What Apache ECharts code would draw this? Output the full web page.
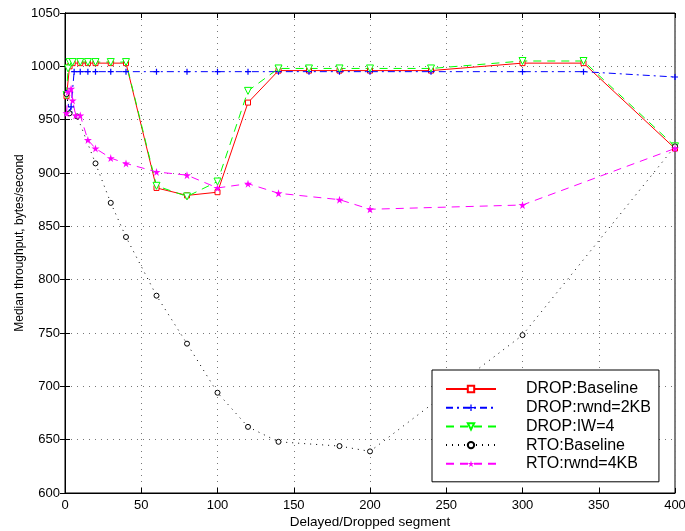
<!DOCTYPE html>
<html>
<head>
<meta charset="utf-8">
<script src="https://cdn.jsdelivr.net/npm/echarts@6/dist/echarts.min.js"></script>
<style>
  html, body { margin: 0; padding: 0; background: #fff; }
  #container { width: 685px; height: 531px; }
</style>
</head>
<body>
<div id="container"></div>
<script>
// values
var dropBaseX = [1, 3, 5, 10, 15, 20, 30, 40, 60, 80, 100, 120, 140, 160, 180, 200, 240, 300, 340, 400];
var dropBaseY = [972, 1000, 1003, 1003, 1003, 1003, 1003, 1003, 886, 879, 882, 966, 996, 996, 996, 996, 996, 1003, 1003, 923];

var dropRwndX = [1, 3, 4, 6, 10, 15, 20, 30, 40, 60, 80, 100, 120, 140, 160, 180, 200, 240, 300, 340, 400];
var dropRwndY = [975, 957, 962, 995, 995, 995, 995, 995, 995, 995, 995, 995, 995, 995, 995, 995, 995, 995, 995, 995, 990];

var dropIwX = [1, 2, 3, 5, 10, 15, 20, 30, 40, 60, 80, 100, 120, 140, 160, 180, 200, 240, 300, 340, 400];
var dropIwY = [973, 998, 1004, 1004, 1004, 1004, 1004, 1004, 1004, 888, 878, 892, 977, 998, 998, 998, 998, 998, 1005, 1005, 925];

var rtoBaseX = [1, 3, 8, 20, 30, 40, 60, 80, 100, 120, 140, 180, 200, 300, 400];
var rtoBaseY = [974, 956, 953, 909, 872, 840, 785, 740, 694, 662, 648, 644, 639, 748, 925];

var rtoRwndX = [1, 2, 4, 5, 7, 10, 15, 20, 30, 40, 60, 80, 100, 120, 140, 180, 200, 300, 400];
var rtoRwndY = [956, 976, 979, 968, 954, 954, 931, 923, 914, 909, 901, 898, 886, 890, 881, 875, 866, 870, 923];

var xTicks = { min: 0, max: 400, interval: 50 };
var yTicks = { min: 600, max: 1050, interval: 50 };

function zip(xs, ys) {
    return xs.map(function (x, i) { return [x, ys[i]]; });
}

var font = 'Liberation Sans, Arial, Helvetica, sans-serif';
var starPath = 'path://M50,0 L61,35 L98,35 L68,57 L79,91 L50,70 L21,91 L32,57 L2,35 L39,35 Z';
var plusPath = 'path://M4,0H6V10H4ZM0,4H10V6H0Z';
var triDownPath = 'path://M0,0L10,0L5,9Z';

var chart = echarts.init(document.getElementById('container'));

var option = {
    animation: false,
    backgroundColor: '#fff',
    textStyle: { fontFamily: font },
    grid: {
        left: 65, right: 10, top: 13, bottom: 38,
        outerBoundsMode: 'none',
        containLabel: false,
        show: true, borderColor: '#000', borderWidth: 1, backgroundColor: 'transparent'
    },
    legend: {
        orient: 'vertical',
        left: 432, top: 370,
        backgroundColor: '#fff',
        borderColor: '#000',
        borderWidth: 1,
        padding: [11, 8, 10, 13],
        itemWidth: 50,
        itemHeight: 8,
        itemGap: 2.7,
        textStyle: { fontSize: 16, color: '#000', fontFamily: font, padding: [0, 0, 0, 25] },
        data: ['DROP:Baseline', 'DROP:rwnd=2KB', 'DROP:IW=4', 'RTO:Baseline', 'RTO:rwnd=4KB']
    },
    xAxis: [{
        type: 'value',
        min: xTicks.min, max: xTicks.max, interval: xTicks.interval,
        name: 'Delayed/Dropped segment',
        nameLocation: 'middle',
        nameGap: 22,
        nameMoveOverlap: false,
        nameTextStyle: { fontSize: 13.5, color: '#000', fontFamily: font },
        axisLine: { lineStyle: { color: '#000' } },
        axisTick: { inside: true, length: 5, lineStyle: { color: '#000' } },
        axisLabel: { fontSize: 13, color: '#000', margin: 6, fontFamily: font },
        splitLine: { show: true, lineStyle: { color: '#777', type: [1, 5] } }
    }, {
        type: 'value', position: 'top',
        min: xTicks.min, max: xTicks.max, interval: xTicks.interval,
        axisLine: { lineStyle: { color: '#000' } },
        axisTick: { inside: true, length: 5, lineStyle: { color: '#000' } },
        axisLabel: { show: false },
        splitLine: { show: false }
    }],
    yAxis: [{
        type: 'value',
        min: yTicks.min, max: yTicks.max, interval: yTicks.interval,
        name: 'Median throughput, bytes/second',
        nameLocation: 'middle',
        nameGap: 39,
        nameMoveOverlap: false,
        nameTextStyle: { fontSize: 12, color: '#000', fontFamily: font, padding: [0, 0, 0, 20] },
        axisLine: { show: true, lineStyle: { color: '#000' } },
        axisTick: { show: true, inside: true, length: 5, lineStyle: { color: '#000' } },
        axisLabel: {
            fontSize: 13, color: '#000', margin: 5, fontFamily: font,
            formatter: function (v) { return String(v); }
        },
        splitLine: { show: true, lineStyle: { color: '#777', type: [1, 5] } }
    }, {
        type: 'value', position: 'right',
        min: yTicks.min, max: yTicks.max, interval: yTicks.interval,
        axisLine: { show: true, lineStyle: { color: '#000' } },
        axisTick: { show: true, inside: true, length: 5, lineStyle: { color: '#000' } },
        axisLabel: { show: false },
        splitLine: { show: false }
    }],
    series: [{
        name: 'DROP:Baseline',
        type: 'line',
        data: zip(dropBaseX, dropBaseY),
        symbol: 'rect', symbolSize: 5,
        itemStyle: { color: '#fff', borderColor: '#ff0000', borderWidth: 1 },
        lineStyle: { color: '#ff0000', width: 1 }
    }, {
        name: 'DROP:rwnd=2KB',
        type: 'line',
        data: zip(dropRwndX, dropRwndY),
        symbol: plusPath, symbolSize: 6,
        itemStyle: { color: '#0000ff' },
        lineStyle: { color: '#0000ff', width: 1, type: [7, 4, 2, 4] }
    }, {
        name: 'DROP:IW=4',
        type: 'line',
        data: zip(dropIwX, dropIwY),
        symbol: triDownPath, symbolSize: 7,
        itemStyle: { color: '#fff', borderColor: '#00ff00', borderWidth: 1 },
        lineStyle: { color: '#00ff00', width: 1, type: [8, 6] }
    }, {
        name: 'RTO:Baseline',
        type: 'line',
        data: zip(rtoBaseX, rtoBaseY),
        symbol: 'circle', symbolSize: 5,
        itemStyle: { color: '#fff', borderColor: '#000', borderWidth: 1 },
        lineStyle: { color: '#000', width: 1, type: [1, 5] }
    }, {
        name: 'RTO:rwnd=4KB',
        type: 'line',
        data: zip(rtoRwndX, rtoRwndY),
        symbol: starPath, symbolSize: 8,
        itemStyle: { color: '#ff00ff' },
        lineStyle: { color: '#ff00ff', width: 1, type: [8, 6] }
    }]
};
chart.setOption(option);
</script>
</body>
</html>
